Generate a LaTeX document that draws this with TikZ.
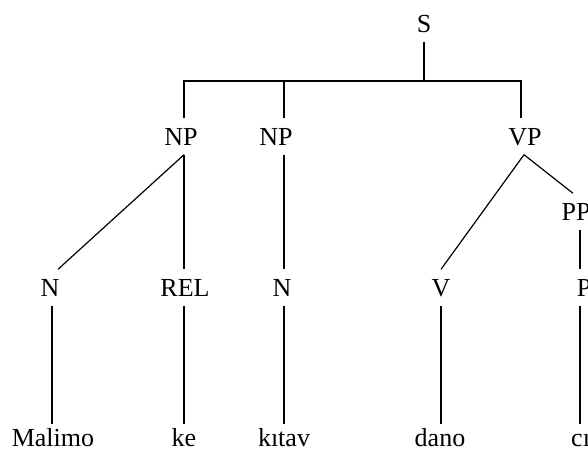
\documentclass[tikz,border=0pt]{standalone}
\usepackage{fontspec}
\setmainfont{Liberation Serif}
\begin{document}
\begin{tikzpicture}[x=1pt,y=-1pt,
  lab/.style={font=\fontsize{26}{31}\selectfont, inner xsep=0pt, inner ysep=9.5pt,
              text height=17pt, text depth=0pt, anchor=base},
  word/.style={lab, inner ysep=5pt},
  edge/.style={line width=1.2pt, black}]
\useasboundingbox (0,0) rectangle (588,450);
% labels
\node[lab] (s) at (424,32) {S};
\node[lab] (np1) at (181,145) {NP};
\node[lab] (np2) at (276,145) {NP};
\node[lab] (vp) at (525,145) {VP};
\node[lab] (pp) at (576,220) {PP};
\node[lab] (n1) at (50,296) {N};
\node[lab] (rel) at (185,296) {REL};
\node[lab] (n2) at (282,296) {N};
\node[lab] (v) at (441,296) {V};
\node[lab] (p) at (584,296) {P};
\node[word] (w1) at (53,446) {Malimo};
\node[word] (w2) at (184,446) {ke};
\node[word] (w3) at (284,446) {kıtav};
\node[word] (w4) at (440,446) {dano};
\node[word, anchor=base west] (w5) at (571,446) {cı};
\coordinate (bar) at (0,81);
% connectors
\draw[edge] (s.south) -- (s.south |- bar);
\draw[edge] ([xshift=3pt]np1.north) -- ([xshift=3pt]np1.north |- bar) -- ([xshift=-4pt]vp.north |- bar) -- ([xshift=-4pt]vp.north);
\draw[edge] ([xshift=8pt]np2.north) -- ([xshift=8pt]np2.north |- bar);
\draw[edge] ([xshift=3pt]np1.south) -- ([xshift=8pt]n1.north);
\draw[edge] ([xshift=3pt]np1.south) -- ([xshift=-1pt]rel.north);
\draw[edge] ([xshift=8pt]np2.south) -- ([xshift=2pt]n2.north);
\draw[edge] ([xshift=-1pt]vp.south) -- (v.north);
\draw[edge] ([xshift=-1pt]vp.south) -- ([xshift=-3pt]pp.north);
\draw[edge] ([xshift=4pt]pp.south) -- ([xshift=-4pt]p.north);
\draw[edge] ([xshift=2pt]n1.south) -- ([xshift=-1pt]w1.north);
\draw[edge] ([xshift=-1pt]rel.south) -- (w2.north);
\draw[edge] ([xshift=2pt]n2.south) -- (w3.north);
\draw[edge] (v.south) -- ([xshift=1pt]w4.north);
\draw[edge] ([xshift=-4pt]p.south) -- ([xshift=-4pt]p.south |- w5.north);
\end{tikzpicture}
\end{document}
